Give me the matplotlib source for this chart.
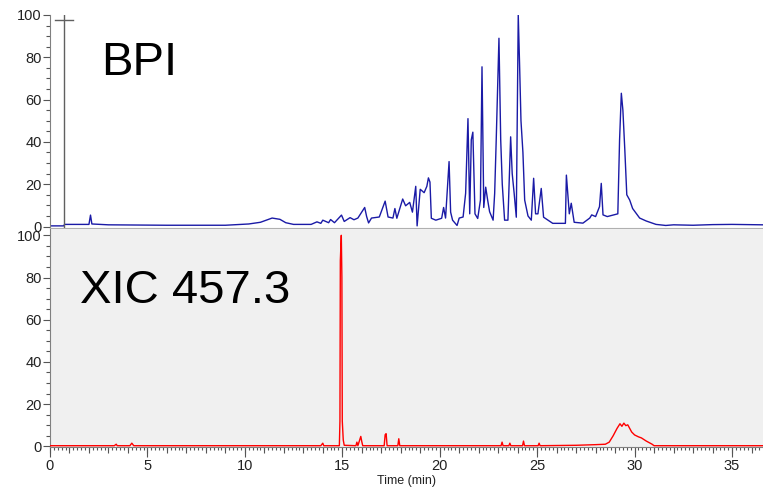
import matplotlib.pyplot as plt
from matplotlib.ticker import MultipleLocator, NullFormatter

plt.rcParams['font.family'] = ['Liberation Sans', 'DejaVu Sans']

# BPI trace, (time in min, relative intensity %)
bpi_time = [0.0, 0.7, 0.75, 2.0, 2.08, 2.15, 3.0, 6.0, 9.0, 10.2, 10.8, 11.4, 11.8, 12.1,
            12.5, 13.4, 13.7, 13.9, 14.0, 14.3, 14.4, 14.6, 14.96, 15.1, 15.4, 15.6, 15.8,
            16.15, 16.25, 16.35, 16.5, 16.9, 17.2, 17.35, 17.6, 17.7, 17.8, 18.1, 18.25,
            18.46, 18.6, 18.77, 18.84, 19.0, 19.2, 19.34, 19.42, 19.5, 19.57, 19.8, 20.1,
            20.2, 20.3, 20.48, 20.56, 20.66, 20.89, 21.0, 21.2, 21.33, 21.45, 21.54, 21.62,
            21.7, 21.81, 21.95, 22.09, 22.17, 22.26, 22.36, 22.46, 22.56, 22.74, 22.82, 22.9,
            23.04, 23.13, 23.21, 23.33, 23.5, 23.64, 23.72, 23.82, 23.93, 24.03, 24.1, 24.17,
            24.27, 24.36, 24.53, 24.7, 24.82, 24.92, 25.04, 25.21, 25.33, 25.56, 25.8, 26.0,
            26.45, 26.5, 26.6, 26.65, 26.75, 26.9, 27.35, 27.7, 27.8, 28.0, 28.2, 28.29,
            28.38, 28.6, 29.14, 29.23, 29.32, 29.4, 29.5, 29.6, 29.75, 29.9, 30.26, 30.6,
            31.1, 31.6, 32.0, 33.0, 34.0, 35.0, 36.6]
bpi_intensity = [0.3, 0.3, 1.0, 1.0, 5.4, 1.2, 0.8, 0.6, 0.6, 1.2, 2.0, 4.0, 3.4, 1.8,
                 1.0, 1.0, 2.2, 1.5, 3.0, 1.8, 3.3, 1.8, 5.4, 2.4, 4.2, 3.2, 4.0,
                 9.0, 4.7, 1.7, 4.0, 4.5, 12.0, 4.5, 4.0, 8.5, 3.9, 13.0, 9.8,
                 11.4, 6.8, 19.0, 0.3, 17.6, 16.0, 19.0, 23.0, 21.0, 3.9, 3.0, 3.9,
                 9.0, 4.0, 30.7, 6.8, 3.0, 0.5, 4.0, 4.5, 15.7, 51.0, 6.0, 41.0,
                 44.6, 6.0, 3.8, 12.5, 75.5, 9.0, 18.6, 12.5, 7.0, 3.0, 15.7, 41.0,
                 89.0, 41.0, 20.0, 3.0, 3.0, 42.4, 25.0, 15.7, 4.4, 100.0, 76.0, 50.0,
                 35.0, 12.5, 5.0, 3.0, 22.8, 6.0, 6.0, 18.0, 4.4, 3.0, 1.5, 1.5,
                 1.5, 24.3, 12.0, 6.0, 11.0, 2.0, 1.6, 4.0, 5.5, 4.7, 9.4, 20.4,
                 5.5, 4.7, 6.0, 41.0, 63.0, 55.0, 36.0, 15.0, 12.5, 8.5, 4.0, 2.6,
                 1.0, 0.5, 0.8, 0.6, 0.9, 1.0, 0.8]

# XIC 457.3 trace
xic_time = [0.0, 3.3, 3.4, 3.45, 4.1, 4.2, 4.3, 13.9, 14.0, 14.05, 14.85, 14.88, 14.9,
            14.95, 14.98, 15.0, 15.05, 15.1, 15.7, 15.75, 15.8, 15.95, 16.0, 16.05, 17.15,
            17.2, 17.25, 17.3, 17.85, 17.9, 17.95, 23.15, 23.2, 23.25, 23.55, 23.6, 23.65,
            24.25, 24.3, 24.35, 25.05, 25.1, 25.15, 27.0, 28.0, 28.5, 28.7, 28.9, 29.1,
            29.25, 29.35, 29.45, 29.55, 29.65, 29.75, 29.85, 30.0, 30.2, 30.35, 30.6, 30.9,
            31.0, 36.6]
xic_intensity = [0.3, 0.3, 1.0, 0.3, 0.3, 1.5, 0.3, 0.3, 1.5, 0.3, 0.3, 12.0, 88.0,
                 100.0, 80.0, 12.0, 3.0, 0.5, 0.3, 2.0, 0.3, 4.7, 2.3, 0.3, 0.3,
                 5.5, 6.0, 0.3, 0.3, 3.6, 0.3, 0.3, 2.0, 0.3, 0.3, 1.5, 0.3,
                 0.3, 2.5, 0.3, 0.3, 1.5, 0.3, 0.5, 0.8, 1.0, 2.0, 5.0, 8.5,
                 10.7, 9.5, 11.0, 9.8, 10.2, 8.5, 6.8, 5.4, 4.5, 4.0, 2.5, 1.0,
                 0.3, 0.3]

cursor_time = 0.72
x_max = 36.59

fig = plt.figure(figsize=(7.63, 4.9), dpi=100)
ax1 = fig.add_axes([0.0655, 0.5347, 0.9345, 0.4347])
ax2 = fig.add_axes([0.0655, 0.0878, 0.9345, 0.4449])

tick_color = '#555555'
for ax in (ax1, ax2):
    ax.set_xlim(0, x_max)
    for s in ('top', 'right'):
        ax.spines[s].set_visible(False)
    ax.spines['left'].set_color('#808080')
    ax.yaxis.set_major_locator(MultipleLocator(20))
    ax.yaxis.set_minor_locator(MultipleLocator(5))
    ax.tick_params(axis='y', which='major', length=5, width=0.8, color=tick_color,
                   labelsize=10.5, labelcolor='#222222', pad=1)
    ax.tick_params(axis='y', which='minor', length=3, width=0.8, color=tick_color)

# top: BPI
ax1.set_ylim(-0.7, 100)
ax1.plot(bpi_time, bpi_intensity, color='#1a1aa6', lw=1)
ax1.spines['bottom'].set_color('#b0b0b0')
ax1.tick_params(axis='x', which='both', bottom=False, labelbottom=False)
ax1.plot([cursor_time, cursor_time], [0, 100], color='#606060', lw=1)
ax1.plot([cursor_time - 0.45, cursor_time + 0.45], [97.6, 97.6], color='#606060', lw=1)
ax1.text(0.072, 0.718, 'BPI', transform=ax1.transAxes, fontsize=34, color='black')

# bottom: XIC
ax2.set_facecolor('#f0f0f0')
ax2.set_ylim(-0.3, 103)
ax2.plot(xic_time, xic_intensity, color='#ff0000', lw=1, zorder=3)
ax2.spines['bottom'].set_color('#808080')
ax2.xaxis.set_major_locator(MultipleLocator(5))
ax2.xaxis.set_minor_locator(MultipleLocator(0.2))
ax2.tick_params(axis='x', which='major', length=7, width=0.8, color=tick_color,
                labelsize=10.5, labelcolor='#222222', pad=2)
ax2.tick_params(axis='x', which='minor', length=2.5, width=0.8, color=tick_color)
sec = ax2.secondary_xaxis('bottom')
sec.xaxis.set_major_locator(MultipleLocator(1))
sec.xaxis.set_major_formatter(NullFormatter())
sec.tick_params(axis='x', length=4, width=0.8, color=tick_color)
sec.spines['bottom'].set_visible(False)
ax2.set_xlabel('Time (min)', fontsize=9, color='#222222', labelpad=1)
ax2.text(0.042, 0.66, 'XIC 457.3', transform=ax2.transAxes, fontsize=34, color='black')

fig.savefig('out.png', dpi=100)
